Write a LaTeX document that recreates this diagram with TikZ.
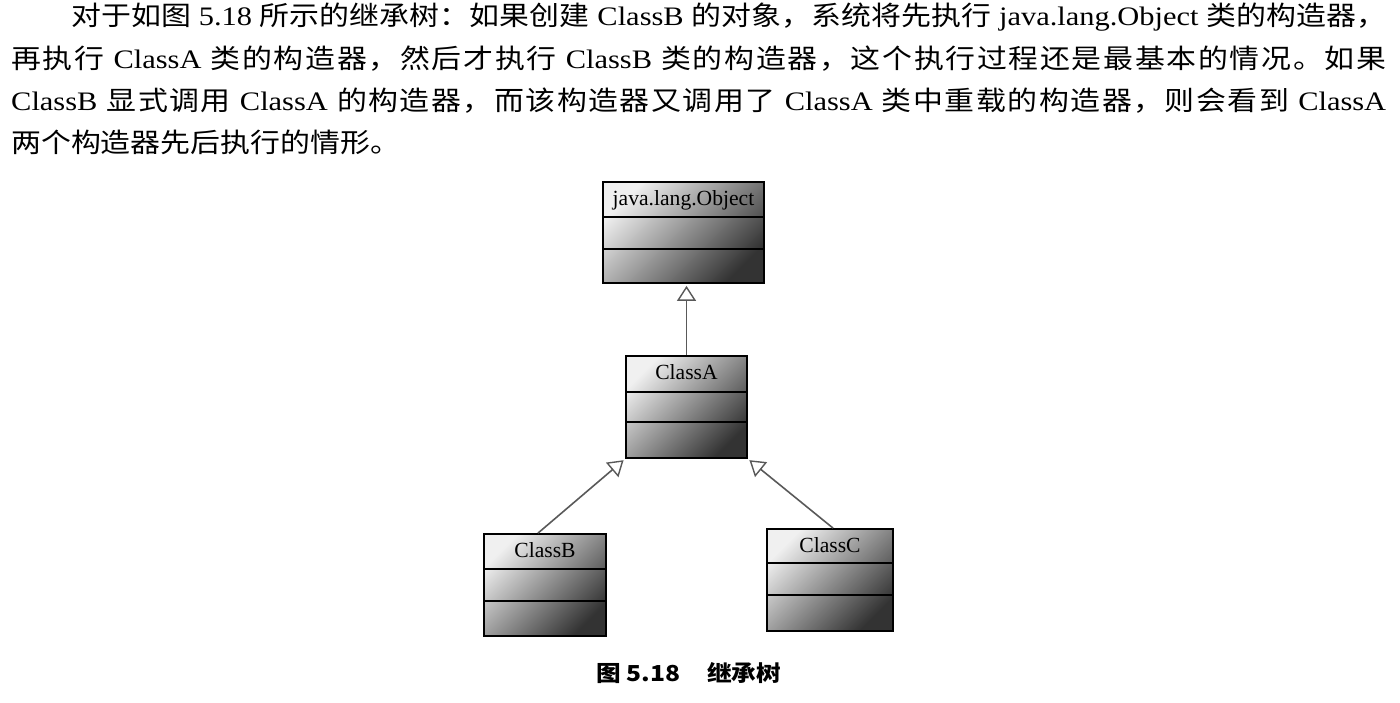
\documentclass[tikz,border=0pt]{standalone}
\usepackage{fontspec}
\setmainfont[FakeStretch=1.14]{Liberation Serif}
\newfontfamily\diafont{Liberation Serif}
\newfontfamily\cjk[FakeStretch=1.12]{Noto Sans CJK SC}
\newfontfamily\cjkcap[FakeStretch=1.12]{Noto Sans CJK SC}
\usetikzlibrary{arrows.meta}
\makeatletter
\def\zh@end{\zh@end}
\newcommand\zhgap{\hskip 0pt plus 1pt minus 0.5pt\relax}
\newcommand\zh[1]{{\cjk\zh@first#1\zh@end}}
\def\zh@first#1{\ifx\zh@end#1\else#1\expandafter\zh@next\fi}
\def\zh@next#1{\ifx\zh@end#1\else\zhgap#1\expandafter\zh@next\fi}
\makeatother
\newcommand\justline[2]{\hbox to #1{\spaceskip=7.6pt plus 1pt minus 1.5pt\relax #2}}
\tikzset{
  bodyline/.style={anchor=base west, inner sep=0pt, font=\fontsize{26.7}{30}\selectfont},
  umlbox/.style={draw=black, line width=1.8pt, rectangle, inner sep=0pt,
    top color=white!94!black, bottom color=black!80, shading angle=45},
  umltitle/.style={anchor=base, inner sep=0pt, font=\fontsize{21.6}{24}\selectfont\diafont},
  divider/.style={line width=1.6pt, black},
  inherit/.style={draw=black!65, line width=1.6pt, shorten >=2pt,
    -{Triangle[width=19pt,length=15pt,fill=white,line width=1.4pt]}},
}
\newcommand\umlclass[8]{%
  \node[umlbox, minimum width=#4-#2, minimum height=#5-#3] (#1) at ({(#2+#4)/2},{(#3+#5)/2}) {};
  \draw[divider] (#1.west |- 0,#6) -- (#1.east |- 0,#6);
  \draw[divider] (#1.west |- 0,#7) -- (#1.east |- 0,#7);
  \node[umltitle] (#1t) at ({(#2+#4)/2},#3+23.5) {#8};
}
\begin{document}
\begin{tikzpicture}[x=1pt,y=-1pt]
\useasboundingbox (0,0) rectangle (1400,703);
% paragraph
\node[bodyline] (l1) at (71,26) {\justline{1315pt}{\zh{对于如图} 5.18 \zh{所示的继承树：如果创建} ClassB \zh{的对象，系统将先执行} java.lang.Object \zh{类的构造器，}}};
\node[bodyline] (l2) at (11,68.3) {\justline{1375pt}{\zh{再执行} ClassA \zh{类的构造器，然后才执行} ClassB \zh{类的构造器，这个执行过程还是最基本的情况。如果}}};
\node[bodyline] (l3) at (11,110.6) {\justline{1375pt}{ClassB \zh{显式调用} ClassA \zh{的构造器，而该构造器又调用了} ClassA \zh{类中重载的构造器，则会看到} ClassA}};
\node[bodyline] (l4) at (11,153) {\zh{两个构造器先后执行的情形。}};
% classes
\umlclass{obj}{603}{182}{764}{283}{217}{249}{java.lang.Object}
\umlclass{ca}{626}{356}{747}{458}{392}{422}{ClassA}
\umlclass{cb}{484}{534}{606}{636}{569}{601}{ClassB}
\umlclass{cc}{767}{529}{893}{631}{563}{595}{ClassC}
% inheritance
\draw[inherit] (ca.north) -- (ca.north |- obj.south);
\draw[inherit] ([xshift=-7pt]cb.north) -- (ca.south west);
\draw[inherit] ([xshift=3pt]cc.north) -- (ca.south east);
% caption
\node[anchor=base west, inner sep=0pt, font=\fontsize{22}{24}\selectfont\cjkcap\bfseries] (cap) at (596,681) {图 5.18\hspace{27pt}继承树};
\end{tikzpicture}
\end{document}
